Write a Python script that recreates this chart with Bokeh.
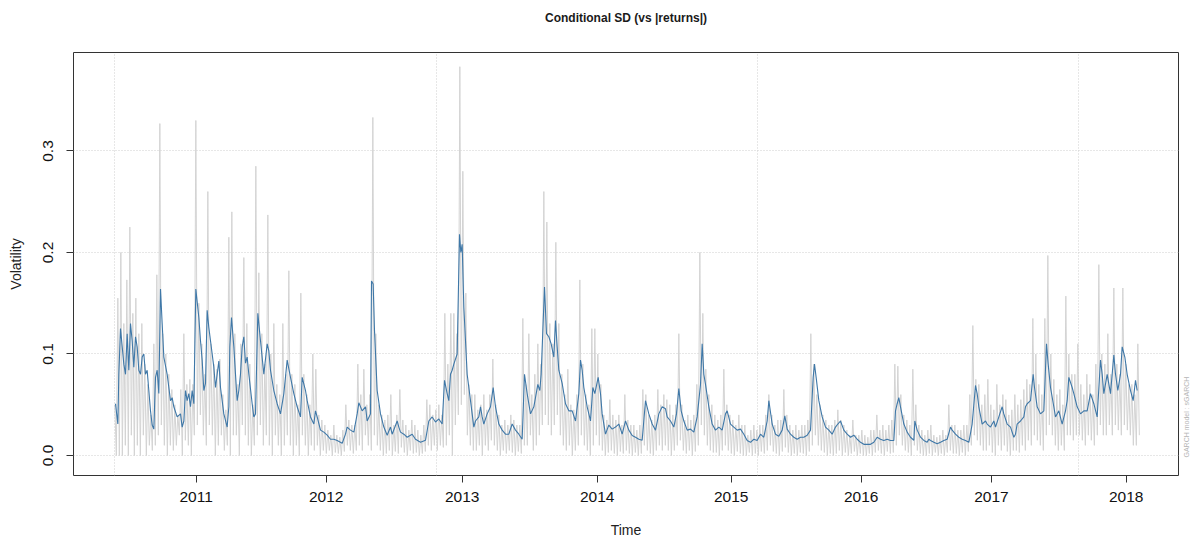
import math
from bokeh.plotting import figure
from bokeh.models import Range1d, FixedTicker, LinearAxis, Title
from bokeh.embed import file_html
from bokeh.resources import INLINE

# ---------------- data ----------------
# observation index (t) and conditional SD (blue line)
sd_t = [2, 9, 12, 17, 27, 32, 37, 42, 47, 52, 57, 62, 67, 72, 77, 82, 87, 92, 97, 102,
        107, 112, 117, 122, 127, 132, 137, 142, 147, 157, 167, 172, 177, 187, 197, 202, 207, 212, 217, 222,
        227, 232, 237, 243, 252, 257, 262, 267, 272, 277, 282, 287, 297, 302, 307, 312, 317, 327, 337, 342,
        345, 350, 357, 362, 367, 372, 377, 382, 387, 392, 397, 402, 412, 417, 422, 429, 437, 447, 457, 462,
        467, 477, 487, 497, 507, 517, 527, 537, 547, 557, 562, 572, 577, 587, 597, 602, 607, 617,
        627, 637, 647, 657, 667, 682, 692, 697, 707, 717, 727, 732, 742, 752, 757, 767, 770, 775, 779, 787,
        797, 807, 817, 827, 832, 847, 852, 857, 867, 877, 887, 892, 902, 917, 932, 942, 952, 962, 972, 982,
        989, 997, 1002, 1007, 1012, 1017, 1027, 1034, 1038, 1042, 1047, 1057, 1067, 1077, 1082, 1092, 1097, 1102, 1107, 1117,
        1127, 1135, 1142, 1152, 1162, 1172, 1182, 1192, 1202, 1212, 1222, 1229, 1237, 1247, 1257, 1262, 1269, 1275, 1279, 1284,
        1289, 1295, 1302, 1309, 1317, 1322, 1327, 1332, 1342, 1352, 1362, 1372, 1382, 1392, 1397, 1402, 1407, 1417, 1427, 1434,
        1440, 1450, 1457, 1462, 1472, 1482, 1492, 1502, 1512, 1522, 1532, 1542, 1552, 1562, 1572, 1582, 1592, 1602, 1612, 1622,
        1632, 1642, 1652, 1657, 1667, 1677, 1685, 1692, 1699, 1707, 1717, 1727, 1737, 1747, 1757, 1762, 1767, 1772, 1782, 1792,
        1802, 1812, 1822, 1832, 1837, 1847, 1857, 1867, 1877, 1887, 1897, 1907, 1917, 1927, 1937, 1947, 1957, 1962, 1972, 1982,
        1992, 2002, 2010, 2017, 2027, 2037, 2047, 2057, 2067, 2077, 2087, 2095, 2099, 2105, 2112, 2122, 2132, 2142, 2152, 2162,
        2169, 2177, 2187, 2197, 2207, 2217, 2227, 2237, 2247, 2257, 2267, 2277, 2287, 2297, 2307, 2317, 2327, 2337, 2342, 2347,
        2352, 2357, 2367, 2377, 2387, 2397, 2400, 2407, 2417, 2427, 2437, 2442, 2447, 2457, 2467, 2477, 2487, 2497, 2507, 2512,
        2522, 2532, 2542, 2552, 2562, 2572, 2582, 2587, 2592, 2602, 2612, 2617, 2627, 2637, 2642, 2652, 2662, 2667, 2677, 2687,
        2697, 2702, 2707, 2717, 2727, 2732, 2737, 2747, 2755, 2759, 2767, 2777, 2787, 2795, 2800, 2807, 2817, 2822, 2832, 2842,
        2852, 2857, 2862, 2872, 2877, 2887, 2897, 2907, 2917, 2927, 2937, 2947, 2957, 2962, 2967, 2977, 2987, 2997, 3002, 3009,
        3017, 3022, 3030, 3037, 3047, 3055, 3062, 3067]
sd_v = [0.051, 0.031, 0.080, 0.125, 0.090, 0.080, 0.120, 0.084, 0.130, 0.113, 0.087, 0.117, 0.107, 0.084, 0.080, 0.097, 0.100, 0.080, 0.084, 0.064,
        0.044, 0.030, 0.026, 0.077, 0.084, 0.061, 0.164, 0.130, 0.097, 0.080, 0.054, 0.057, 0.048, 0.038, 0.041, 0.028, 0.034, 0.064, 0.054, 0.061,
        0.048, 0.064, 0.051, 0.164, 0.136, 0.113, 0.094, 0.064, 0.071, 0.143, 0.126, 0.113, 0.087, 0.067, 0.080, 0.093, 0.067, 0.041, 0.028, 0.048,
        0.107, 0.136, 0.107, 0.080, 0.054, 0.064, 0.080, 0.107, 0.117, 0.091, 0.097, 0.080, 0.051, 0.038, 0.041, 0.140, 0.113, 0.080, 0.110, 0.103,
        0.084, 0.064, 0.051, 0.041, 0.061, 0.094, 0.077, 0.061, 0.048, 0.038, 0.077, 0.064, 0.054, 0.038, 0.031, 0.044, 0.038, 0.025,
        0.023, 0.020, 0.016, 0.016, 0.0148, 0.012, 0.021, 0.028, 0.025, 0.023, 0.041, 0.052, 0.044, 0.048, 0.034, 0.041, 0.172, 0.169, 0.123, 0.064,
        0.041, 0.028, 0.020, 0.028, 0.021, 0.034, 0.028, 0.023, 0.021, 0.018, 0.020, 0.021, 0.016, 0.013, 0.015, 0.034, 0.038, 0.033, 0.036, 0.031,
        0.074, 0.061, 0.054, 0.080, 0.084, 0.090, 0.100, 0.218, 0.200, 0.208, 0.146, 0.080, 0.054, 0.028, 0.034, 0.038, 0.048, 0.038, 0.031, 0.041,
        0.048, 0.067, 0.048, 0.031, 0.025, 0.021, 0.021, 0.031, 0.025, 0.021, 0.016, 0.080, 0.061, 0.041, 0.048, 0.057, 0.070, 0.064, 0.080, 0.123,
        0.166, 0.120, 0.117, 0.110, 0.097, 0.133, 0.107, 0.084, 0.071, 0.051, 0.044, 0.044, 0.034, 0.061, 0.094, 0.084, 0.067, 0.048, 0.034, 0.067,
        0.061, 0.077, 0.061, 0.041, 0.021, 0.030, 0.026, 0.028, 0.031, 0.021, 0.034, 0.025, 0.0197, 0.018, 0.016, 0.015, 0.054, 0.041, 0.031, 0.025,
        0.041, 0.048, 0.046, 0.038, 0.034, 0.028, 0.041, 0.066, 0.044, 0.034, 0.025, 0.026, 0.023, 0.038, 0.070, 0.110, 0.080, 0.070, 0.048, 0.031,
        0.025, 0.028, 0.025, 0.041, 0.044, 0.031, 0.028, 0.025, 0.026, 0.021, 0.0148, 0.013, 0.016, 0.0148, 0.021, 0.018, 0.034, 0.054, 0.031, 0.021,
        0.019, 0.025, 0.039, 0.026, 0.021, 0.018, 0.016, 0.018, 0.018, 0.020, 0.025, 0.077, 0.090, 0.074, 0.054, 0.038, 0.028, 0.025, 0.021, 0.028,
        0.031, 0.034, 0.025, 0.021, 0.018, 0.020, 0.016, 0.013, 0.011, 0.011, 0.011, 0.013, 0.018, 0.016, 0.0148, 0.016, 0.0148, 0.0148, 0.044, 0.051,
        0.057, 0.048, 0.031, 0.023, 0.018, 0.015, 0.034, 0.025, 0.018, 0.0148, 0.013, 0.016, 0.0148, 0.013, 0.0115, 0.013, 0.0148, 0.016, 0.028, 0.025,
        0.021, 0.018, 0.016, 0.0148, 0.013, 0.031, 0.069, 0.061, 0.048, 0.031, 0.034, 0.031, 0.028, 0.034, 0.028, 0.038, 0.048, 0.041, 0.031, 0.028,
        0.018, 0.021, 0.031, 0.034, 0.038, 0.048, 0.051, 0.054, 0.080, 0.067, 0.048, 0.041, 0.044, 0.110, 0.090, 0.067, 0.048, 0.038, 0.044, 0.031,
        0.044, 0.054, 0.077, 0.067, 0.061, 0.048, 0.041, 0.044, 0.044, 0.061, 0.051, 0.038, 0.094, 0.080, 0.061, 0.080, 0.061, 0.099, 0.080, 0.064,
        0.080, 0.107, 0.097, 0.080, 0.064, 0.054, 0.074, 0.064]

# |returns| (grey): alternating local highs and lows, one pair per sampling slot
grey_hi = [0.05, 0.155, 0.2, 0.13, 0.173, 0.225, 0.14, 0.155, 0.12, 0.13,
           0.09, 0.07, 0.04, 0.11, 0.178, 0.327, 0.12, 0.1, 0.08, 0.065,
           0.05, 0.04, 0.065, 0.12, 0.07, 0.075, 0.07, 0.33, 0.15, 0.11,
           0.08, 0.26, 0.11, 0.09, 0.085, 0.095, 0.06, 0.045, 0.215, 0.24,
           0.12, 0.07, 0.11, 0.195, 0.13, 0.09, 0.05, 0.285, 0.18, 0.12,
           0.09, 0.237, 0.1, 0.13, 0.07, 0.06, 0.13, 0.08, 0.182, 0.08,
           0.07, 0.05, 0.16, 0.08, 0.06, 0.05, 0.1, 0.085, 0.04, 0.035,
           0.03, 0.025, 0.02, 0.03, 0.02, 0.018, 0.025, 0.05, 0.035, 0.03,
           0.03, 0.09, 0.06, 0.085, 0.05, 0.06, 0.333, 0.12, 0.05, 0.04,
           0.035, 0.04, 0.06, 0.03, 0.04, 0.065, 0.035, 0.03, 0.025, 0.035,
           0.03, 0.025, 0.02, 0.03, 0.055, 0.05, 0.04, 0.045, 0.05, 0.04,
           0.14, 0.09, 0.14, 0.14, 0.12, 0.383, 0.28, 0.16, 0.07, 0.06,
           0.06, 0.045, 0.05, 0.06, 0.045, 0.06, 0.095, 0.05, 0.04, 0.03,
           0.035, 0.03, 0.04, 0.035, 0.03, 0.03, 0.135, 0.07, 0.12, 0.06,
           0.08, 0.11, 0.09, 0.26, 0.23, 0.13, 0.11, 0.21, 0.13, 0.08,
           0.06, 0.085, 0.05, 0.045, 0.06, 0.173, 0.09, 0.06, 0.05, 0.125,
           0.125, 0.1, 0.07, 0.04, 0.035, 0.055, 0.04, 0.035, 0.04, 0.03,
           0.06, 0.035, 0.03, 0.03, 0.025, 0.03, 0.065, 0.06, 0.04, 0.035,
           0.04, 0.065, 0.05, 0.06, 0.055, 0.05, 0.04, 0.05, 0.12, 0.05,
           0.035, 0.04, 0.035, 0.04, 0.07, 0.2, 0.14, 0.085, 0.06, 0.05,
           0.04, 0.035, 0.04, 0.085, 0.05, 0.04, 0.035, 0.03, 0.04, 0.03,
           0.03, 0.02, 0.025, 0.03, 0.025, 0.03, 0.03, 0.04, 0.06, 0.04,
           0.03, 0.035, 0.035, 0.065, 0.04, 0.03, 0.025, 0.03, 0.025, 0.03,
           0.03, 0.035, 0.12, 0.09, 0.06, 0.05, 0.04, 0.035, 0.03, 0.03,
           0.035, 0.045, 0.035, 0.03, 0.025, 0.02, 0.035, 0.02, 0.02, 0.025,
           0.02, 0.018, 0.025, 0.025, 0.04, 0.025, 0.03, 0.025, 0.03, 0.035,
           0.09, 0.088, 0.06, 0.04, 0.035, 0.03, 0.085, 0.05, 0.03, 0.025,
           0.02, 0.025, 0.03, 0.02, 0.018, 0.02, 0.025, 0.02, 0.05, 0.03,
           0.03, 0.025, 0.025, 0.03, 0.03, 0.06, 0.128, 0.075, 0.07, 0.05,
           0.06, 0.075, 0.05, 0.045, 0.07, 0.05, 0.06, 0.055, 0.04, 0.045,
           0.06, 0.05, 0.055, 0.065, 0.075, 0.07, 0.135, 0.1, 0.07, 0.06,
           0.135, 0.197, 0.1, 0.075, 0.06, 0.065, 0.05, 0.157, 0.1, 0.08,
           0.08, 0.11, 0.07, 0.06, 0.08, 0.07, 0.06, 0.09, 0.188, 0.1,
           0.09, 0.12, 0.08, 0.165, 0.09, 0.08, 0.165, 0.09, 0.07, 0.07, 0.06, 0.11]
grey_lo = [0.0, 0.0, 0.0, 0.01, 0.0, 0.02, 0.0, 0.01, 0.0, 0.02,
           0.0, 0.01, 0.005, 0.01, 0.02, 0.03, 0.01, 0.0, 0.01, 0.005,
           0.01, 0.02, 0.0, 0.015, 0.01, 0.0, 0.02, 0.03, 0.04, 0.02,
           0.01, 0.03, 0.02, 0.0, 0.01, 0.02, 0.005, 0.01, 0.0, 0.02,
           0.02, 0.0, 0.03, 0.02, 0.01, 0.0, 0.01, 0.02, 0.03, 0.01,
           0.02, 0.01, 0.0, 0.02, 0.01, 0.0, 0.01, 0.02, 0.01, 0.0,
           0.01, 0.0, 0.02, 0.01, 0.0, 0.01, 0.005, 0.01, 0.0, 0.005,
           0.002, 0.005, 0.0, 0.003, 0.002, 0.0, 0.004, 0.01, 0.005, 0.002,
           0.005, 0.01, 0.005, 0.02, 0.01, 0.005, 0.02, 0.01, 0.005, 0.0,
           0.002, 0.005, 0.0, 0.004, 0.002, 0.008, 0.003, 0.0, 0.005, 0.002,
           0.003, 0.0, 0.002, 0.004, 0.01, 0.005, 0.01, 0.005, 0.01, 0.008,
           0.01, 0.02, 0.0, 0.03, 0.04, 0.05, 0.06, 0.02, 0.01, 0.005,
           0.005, 0.01, 0.0, 0.01, 0.005, 0.015, 0.01, 0.005, 0.0, 0.005,
           0.002, 0.005, 0.003, 0.0, 0.004, 0.002, 0.01, 0.01, 0.02, 0.005,
           0.01, 0.02, 0.03, 0.04, 0.03, 0.02, 0.03, 0.04, 0.02, 0.01,
           0.005, 0.01, 0.0, 0.005, 0.01, 0.02, 0.01, 0.005, 0.0, 0.01,
           0.02, 0.01, 0.005, 0.0, 0.003, 0.005, 0.002, 0.0, 0.004, 0.002,
           0.005, 0.002, 0.0, 0.003, 0.0, 0.002, 0.01, 0.005, 0.002, 0.0,
           0.005, 0.01, 0.005, 0.01, 0.005, 0.0, 0.005, 0.01, 0.015, 0.005,
           0.002, 0.005, 0.0, 0.004, 0.01, 0.03, 0.02, 0.01, 0.005, 0.003,
           0.003, 0.0, 0.005, 0.01, 0.005, 0.002, 0.0, 0.004, 0.002, 0.0,
           0.0, 0.003, 0.0, 0.002, 0.0, 0.004, 0.002, 0.005, 0.01, 0.004,
           0.002, 0.0, 0.004, 0.008, 0.003, 0.0, 0.002, 0.0, 0.003, 0.002,
           0.0, 0.004, 0.01, 0.02, 0.01, 0.005, 0.003, 0.0, 0.002, 0.0,
           0.002, 0.005, 0.0, 0.003, 0.0, 0.002, 0.004, 0.0, 0.002, 0.0,
           0.0, 0.002, 0.0, 0.003, 0.005, 0.002, 0.0, 0.004, 0.002, 0.003,
           0.01, 0.02, 0.01, 0.005, 0.003, 0.0, 0.01, 0.005, 0.002, 0.0,
           0.0, 0.002, 0.0, 0.003, 0.0, 0.002, 0.0, 0.003, 0.005, 0.002,
           0.002, 0.0, 0.003, 0.0, 0.004, 0.01, 0.02, 0.015, 0.01, 0.005,
           0.005, 0.01, 0.003, 0.0, 0.01, 0.005, 0.01, 0.004, 0.0, 0.005,
           0.005, 0.003, 0.01, 0.005, 0.015, 0.01, 0.02, 0.015, 0.01, 0.005,
           0.02, 0.03, 0.02, 0.01, 0.005, 0.01, 0.005, 0.02, 0.02, 0.015,
           0.02, 0.02, 0.015, 0.01, 0.02, 0.015, 0.01, 0.02, 0.03, 0.02,
           0.02, 0.03, 0.02, 0.03, 0.025, 0.02, 0.03, 0.025, 0.02, 0.01, 0.01, 0.02]
grey_step = 9  # observations between sampling slots

# axis ticks / labels
year_ticks = [244, 634, 1042, 1447, 1849, 2239, 2630, 3034]
year_labels = ["2011", "2012", "2013", "2014", "2015", "2016", "2017", "2018"]
vgrid_ticks = [0, 964, 1927, 2890]
y_ticks = [0.0, 0.1, 0.2, 0.3]
y_labels = ["0.0", "0.1", "0.2", "0.3"]
model_note = "GARCH model : sGARCH"
model_note_y = -0.002

# ---------------- build ----------------
grey_t, grey_v = [], []
for k, (hi, lo) in enumerate(zip(grey_hi, grey_lo)):
    grey_t += [k * grey_step, k * grey_step + grey_step / 2]
    grey_v += [hi, lo]

FONT = "Liberation Sans"

p = figure(width=1203, height=541, output_backend="svg", toolbar_location=None,
           x_range=Range1d(-124, 3191), y_range=Range1d(-0.0197, 0.397),
           min_border_left=73, min_border_right=25, min_border_top=52, min_border_bottom=66)

# spacer (closest to the frame) so that the main title sits high above the box
p.add_layout(Title(text=" ", text_font_size="1px", standoff=25), "above")
p.title.text = "Conditional SD (vs |returns|)"
p.title.align = "center"
p.title.text_font = FONT
p.title.text_font_size = "12px"
p.title.text_font_style = "bold"
p.title.text_color = "#1a1a1a"
p.title.standoff = 0

p.background_fill_color = "white"
p.border_fill_color = "white"
p.outline_line_color = "#333333"
p.outline_line_width = 1

# grid
p.xgrid.ticker = FixedTicker(ticks=vgrid_ticks)
p.ygrid.ticker = FixedTicker(ticks=y_ticks)
for g in (p.xgrid, p.ygrid):
    g.grid_line_color = "#cfcfcf"
    g.grid_line_dash = "1 2"
    g.grid_line_width = 1

# axes
xa = p.xaxis[0]
xa.ticker = FixedTicker(ticks=year_ticks)
xa.major_label_overrides = {t: lab for t, lab in zip(year_ticks, year_labels)}
ya = p.yaxis[0]
ya.ticker = FixedTicker(ticks=y_ticks)
ya.major_label_overrides = {t: lab for t, lab in zip(y_ticks, y_labels)}
ya.major_label_orientation = "vertical"
for ax in (xa, ya):
    ax.axis_line_color = None
    ax.major_tick_in = 0
    ax.major_tick_out = 7
    ax.major_tick_line_color = "#333333"
    ax.minor_tick_line_color = None
    ax.major_label_text_font = FONT
    ax.major_label_text_font_size = "15.5px"
    ax.major_label_text_color = "#111111"
    ax.axis_label_text_font = FONT
    ax.axis_label_text_font_size = "14px"
    ax.axis_label_text_font_style = "normal"
    ax.axis_label_text_color = "#222222"
xa.axis_label = "Time"
xa.major_label_standoff = 9
xa.axis_label_standoff = 17
ya.axis_label = "Volatility"
ya.major_label_standoff = 13
ya.axis_label_standoff = 17

# right-hand note (small grey text, reading bottom to top)
ra = LinearAxis(ticker=FixedTicker(ticks=[model_note_y]),
                major_label_overrides={model_note_y: model_note})
ra.axis_line_color = None
ra.major_tick_line_color = None
ra.minor_tick_line_color = None
ra.major_tick_in = 0
ra.major_tick_out = 0
ra.major_label_standoff = 8
ra.major_label_orientation = math.pi / 2
ra.major_label_text_font = FONT
ra.major_label_text_font_size = "7px"
ra.major_label_text_color = "#b5b5b5"
p.add_layout(ra, "right")

# series
p.line(grey_t, grey_v, line_color="#d3d3d3", line_width=1)
p.line(sd_t, sd_v, line_color="#3f78a8", line_width=1.1)

open("out.html", "w").write(file_html(p, INLINE))
